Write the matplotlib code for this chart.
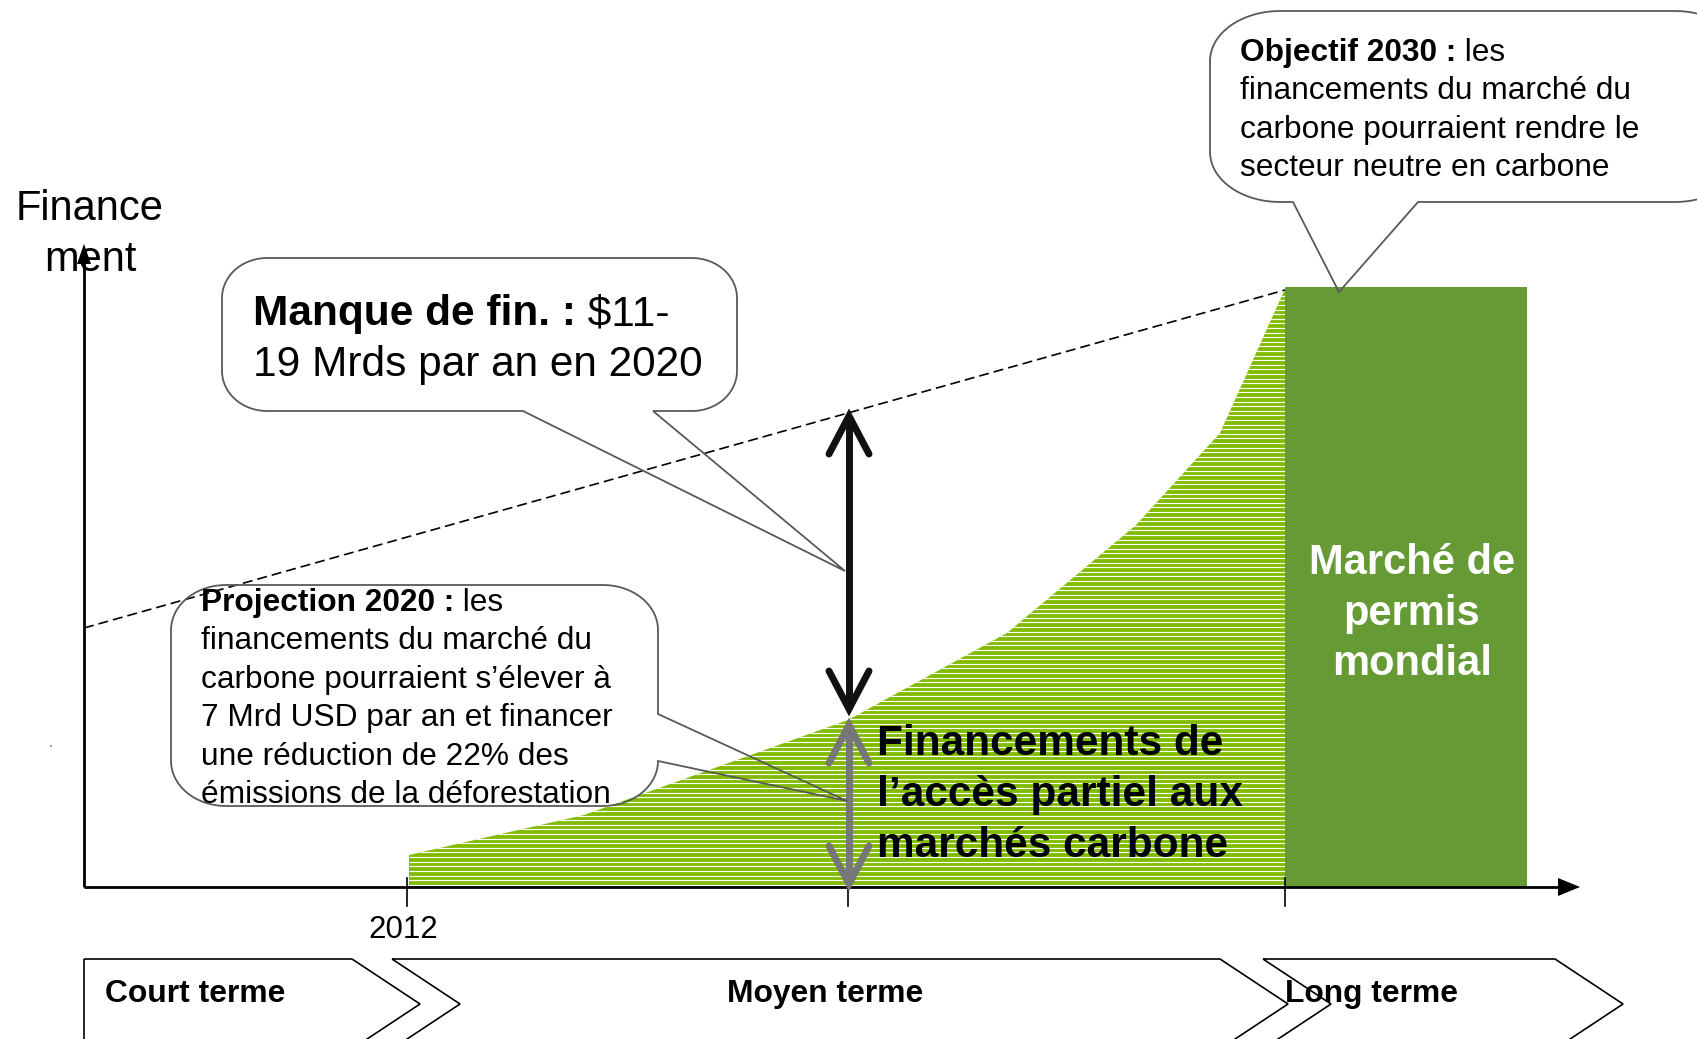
import numpy as np
import matplotlib.pyplot as plt
from matplotlib.patches import Polygon

plt.rcParams['font.family'] = ['Liberation Sans', 'DejaVu Sans']

# diagram drawn in pixel space of the 1697x1039 picture (y pointing down)
W, H = 1697, 1039
axis_y = 887
axis_x = 84

# carbon market financing curve (hatched area)
finance_x = [409, 584, 848, 1007, 1136, 1220, 1285]
finance_y = [855, 815, 720, 633, 525, 433, 289]
# global permit market block
market_x = [1285, 1527]
market_top = 287
# dashed "needed finance" line
need_x = [84, 1285]
need_y = [628, 290]
# ticks
tick_x = [407, 848, 1285]
tick_labels = ['2012', '', '']
# phases
phase_labels = ['Court terme', 'Moyen terme', 'Long terme']
phase_left = [84, 392, 1263]
phase_right = [352, 1220, 1555]

light_green = '#80BB00'
dark_green = '#669A34'
edge_gray = '#595959'

fig = plt.figure(figsize=(W / 100, H / 100), dpi=100)
ax = fig.add_axes([0, 0, 1, 1])
ax.set_xlim(0, W)
ax.set_ylim(H, 0)
ax.axis('off')
renderer = fig.canvas.get_renderer()


def mixed(x, y, bold, rest, size, color='black'):
    t = ax.text(x, y, bold, fontsize=size, fontweight='bold', va='baseline', color=color, zorder=10)
    w = t.get_window_extent(renderer).width
    ax.text(x + w, y, rest, fontsize=size, va='baseline', color=color, zorder=10)


def callout(x0, y0, x1, y1, rx, ry, side, base, tip):
    pts = [(x0 + rx, y0), (x1 - rx, y0)]
    t = np.linspace(-np.pi / 2, 0, 20)
    pts += list(zip(x1 - rx + rx * np.cos(t), y0 + ry + ry * np.sin(t)))
    if side == 'right':
        pts += [(x1, base[0]), tip, (x1, base[1])]
    t = np.linspace(0, np.pi / 2, 20)
    pts += list(zip(x1 - rx + rx * np.cos(t), y1 - ry + ry * np.sin(t)))
    if side == 'bottom':
        pts += [(base[0], y1), tip, (base[1], y1)]
    t = np.linspace(np.pi / 2, np.pi, 20)
    pts += list(zip(x0 + rx + rx * np.cos(t), y1 - ry + ry * np.sin(t)))
    t = np.linspace(np.pi, 1.5 * np.pi, 20)
    pts += list(zip(x0 + rx + rx * np.cos(t), y0 + ry + ry * np.sin(t)))
    ax.add_patch(Polygon(pts, closed=True, fill=False, ec=edge_gray, lw=1.3, zorder=8))


# hatched area
poly = list(zip(finance_x, finance_y)) + [(finance_x[-1], axis_y), (finance_x[0], axis_y)]
area = Polygon(poly, closed=True, fc=light_green, ec='none', zorder=2)
ax.add_patch(area)
stripes = ax.hlines(np.arange(axis_y - 2.3, 280, -4.6), finance_x[0], finance_x[-1],
                    colors='white', lw=0.85, zorder=3)
stripes.set_clip_path(area)

# solid block
ax.fill_between(market_x, [market_top] * 2, [axis_y] * 2, color=dark_green, lw=0, zorder=2)

# dashed line
dl, = ax.plot(need_x, need_y, color='black', lw=1.2, zorder=4)
dl.set_dashes((6, 3))

# axes
ax.plot([axis_x, 1560], [axis_y, axis_y], color='black', lw=2, zorder=5, solid_capstyle='butt')
ax.plot([axis_x, axis_x], [axis_y, 262], color='black', lw=2, zorder=5, solid_capstyle='butt')
ax.add_patch(Polygon([(1558, axis_y - 9), (1580, axis_y), (1558, axis_y + 9)], fc='black', ec='none', zorder=5))
ax.add_patch(Polygon([(axis_x - 7, 264), (axis_x, 244), (axis_x + 7, 264)], fc='black', ec='none', zorder=5))
for tx, lab in zip(tick_x, tick_labels):
    ax.plot([tx, tx], [878, 906], color='black', lw=1.2, zorder=5)
    if lab:
        ax.text(tx - 4, 938, lab, fontsize=22.5, ha='center', va='baseline')

ax.text(90, 220, 'Finance', fontsize=30, ha='center', va='baseline', zorder=1)
ax.text(90, 271, 'ment', fontsize=30, ha='center', va='baseline', zorder=1)


# double arrows
def double_arrow(x, top, bottom, color):
    kw = dict(color=color, lw=5, solid_capstyle='round', solid_joinstyle='miter', zorder=6)
    ax.plot([x, x], [top + 4, bottom - 4], **kw)
    ax.plot([x - 20, x, x + 20], [top + 40, top + 2, top + 40], **kw)
    ax.plot([x - 20, x, x + 20], [bottom - 40, bottom - 2, bottom - 40], **kw)


double_arrow(849, 414, 711, '#111111')
double_arrow(849, 723, 886, '#777777')

# callouts
callout(222, 258, 737, 411, 45, 40, 'bottom', (653, 523), (845, 571))
callout(1210, 11, 1745, 202, 70, 50, 'bottom', (1418, 1293), (1339, 292))
callout(171, 585, 658, 806, 55, 45, 'right', (714, 761), (847, 801))

mixed(253, 325, 'Manque de fin. :', ' $11-', 30.5)
ax.text(253, 376, '19 Mrds par an en 2020', fontsize=30.5, va='baseline', zorder=10)

obj_lines = ['financements du marché du', 'carbone pourraient rendre le', 'secteur neutre en carbone']
mixed(1240, 61, 'Objectif 2030 :', ' les', 22.8)
for i, line in enumerate(obj_lines):
    ax.text(1240, 61 + 38.3 * (i + 1), line, fontsize=22.8, va='baseline', zorder=10)

proj_lines = ['financements du marché du', 'carbone pourraient s\u2019élever à',
              '7 Mrd USD par an et financer', 'une réduction de 22% des',
              'émissions de la déforestation']
mixed(201, 611, 'Projection 2020 :', ' les', 22.8)
for i, line in enumerate(proj_lines):
    ax.text(201, 611 + 38.4 * (i + 1), line, fontsize=22.8, va='baseline', zorder=10)

fin_lines = ['Financements de', 'l\u2019accès partiel aux', 'marchés carbone']
for i, line in enumerate(fin_lines):
    ax.text(877, 755 + 51 * i, line, fontsize=30.5, fontweight='bold', va='baseline', zorder=10)

mkt_lines = ['Marché de', 'permis', 'mondial']
for i, line in enumerate(mkt_lines):
    ax.text(sum(market_x) / 2 + 6, 574 + 50.5 * i, line, fontsize=30, fontweight='bold',
            color='white', ha='center', va='baseline', zorder=10)

ax.text(49, 747, '.', fontsize=10, color='#555555')

# phase chevrons
top, mid, bot = 959, 1004, 1049
for i, (l, r) in enumerate(zip(phase_left, phase_right)):
    notch = 0 if i == 0 else 68
    pts = [(l, top), (r, top), (r + 68, mid), (r, bot), (l, bot), (l + notch, mid)]
    ax.add_patch(Polygon(pts, closed=True, fill=False, ec='black', lw=1.2, zorder=7))
ax.text(105, 1002, phase_labels[0], fontsize=22.9, fontweight='bold', va='baseline', zorder=10)
ax.text(825, 1002, phase_labels[1], fontsize=22.9, fontweight='bold', ha='center', va='baseline', zorder=10)
ax.text(1285, 1002, phase_labels[2], fontsize=22.9, fontweight='bold', va='baseline', zorder=10)

fig.savefig('out.png', dpi=100)
